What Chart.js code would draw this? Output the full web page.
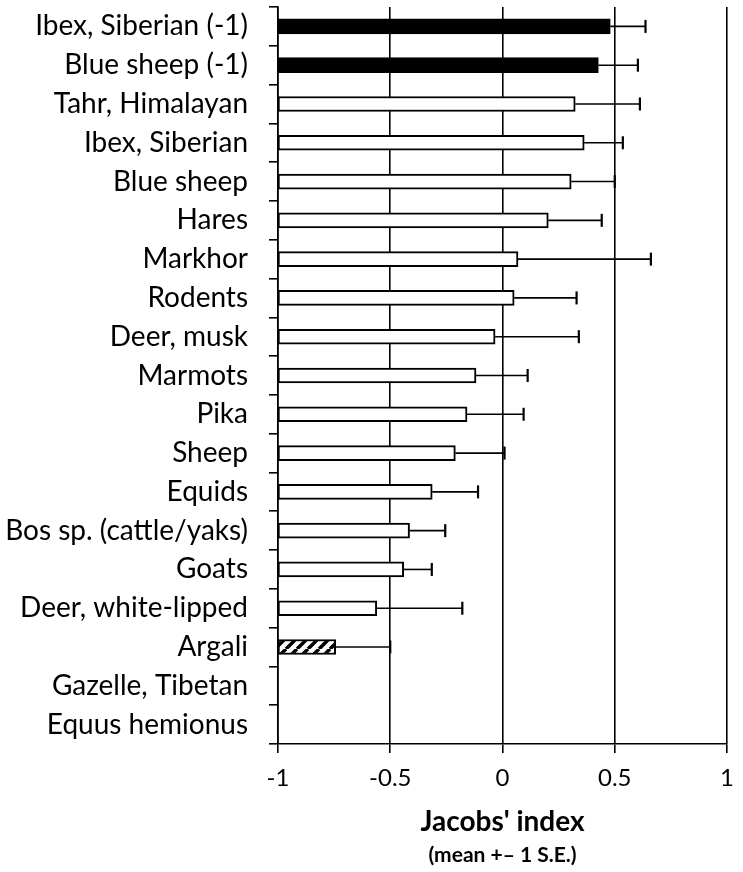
<!DOCTYPE html>
<html>
<head>
<meta charset="utf-8">
<script src="https://cdn.jsdelivr.net/npm/chart.js@4/dist/chart.umd.min.js"></script>
<style>
  html, body { margin: 0; padding: 0; background: #fff; }
  #wrap { width: 743px; height: 872px; position: relative; }
</style>
</head>
<body>
<div id="wrap"><canvas id="c" width="743" height="872"></canvas></div>
<script>
// ---- data ----
const categories = [
  'Ibex, Siberian (-1)', 'Blue sheep (-1)', 'Tahr, Himalayan', 'Ibex, Siberian',
  'Blue sheep', 'Hares', 'Markhor', 'Rodents', 'Deer, musk', 'Marmots', 'Pika',
  'Sheep', 'Equids', 'Bos sp. (cattle/yaks)', 'Goats', 'Deer, white-lipped',
  'Argali', 'Gazelle, Tibetan', 'Equus hemionus'
];
const meanIndex = [0.48, 0.427, 0.324, 0.364, 0.306, 0.204, 0.069, 0.052, -0.033,
  -0.118, -0.158, -0.21, -0.313, -0.414, -0.44, -0.56, -0.743, null, null];
const stdError = [0.157, 0.176, 0.288, 0.172, 0.194, 0.238, 0.592, 0.278, 0.373,
  0.23, 0.252, 0.219, 0.204, 0.159, 0.125, 0.381, 0.243, null, null];
const groups = ['inverted', 'inverted', 'normal', 'normal', 'normal', 'normal', 'normal',
  'normal', 'normal', 'normal', 'normal', 'normal', 'normal', 'normal', 'normal',
  'normal', 'hatched', 'normal', 'normal'];
const xTicks = [-1, -0.5, 0, 0.5, 1];
const axisTitle = "Jacobs' index";
const axisSubtitle = '(mean +\u2013 1 S.E.)';

// ---- styling ----
function hatchPattern() {
  const s = 11;
  const p = document.createElement('canvas');
  p.width = s; p.height = s;
  const g = p.getContext('2d');
  g.fillStyle = '#fff'; g.fillRect(0, 0, s, s);
  g.strokeStyle = '#000'; g.lineWidth = 3.5;
  g.beginPath();
  for (let k = -1; k <= 1; k++) {
    g.moveTo(k * s, s); g.lineTo(k * s + s, 0);
  }
  g.stroke();
  return document.getElementById('c').getContext('2d').createPattern(p, 'repeat');
}
const hatch = hatchPattern();
const fills = groups.map(g => g === 'inverted' ? '#000' : (g === 'hatched' ? hatch : '#fff'));

const FONT = 'Lato, Carlito, "Noto Sans", sans-serif';
const PLOT_LEFT = 278, PLOT_RIGHT_PAD = 16, PLOT_TOP = 7, X_AXIS_H = 128;

const errorBars = {
  id: 'errorBars',
  afterDatasetsDraw(chart) {
    const ctx = chart.ctx, xs = chart.scales.x, ys = chart.scales.y;
    ctx.save();
    ctx.strokeStyle = '#000';
    meanIndex.forEach((m, i) => {
      if (m === null || stdError[i] === null) return;
      const y = ys.getPixelForValue(i);
      const x0 = xs.getPixelForValue(m);
      const x1 = xs.getPixelForValue(m + stdError[i]);
      ctx.lineWidth = 1.6;
      ctx.beginPath();
      ctx.moveTo(x0, y); ctx.lineTo(x1, y);
      ctx.stroke();
      ctx.lineWidth = 2.2;
      ctx.beginPath();
      ctx.moveTo(x1, y - 6.5); ctx.lineTo(x1, y + 6.5);
      ctx.stroke();
    });
    ctx.restore();
  }
};

const axisTitles = {
  id: 'axisTitles',
  afterDraw(chart) {
    const ctx = chart.ctx, a = chart.chartArea;
    const cx = (a.left + a.right) / 2;
    ctx.save();
    ctx.fillStyle = '#000';
    ctx.textAlign = 'center';
    ctx.textBaseline = 'middle';
    ctx.font = 'bold 28px ' + FONT;
    ctx.fillText(axisTitle, cx, a.bottom + 78);
    ctx.font = 'bold 21px ' + FONT;
    ctx.fillText(axisSubtitle, cx, a.bottom + 111);
    ctx.restore();
  }
};

new Chart(document.getElementById('c'), {
  type: 'bar',
  data: {
    labels: categories,
    datasets: [{
      data: meanIndex.map(v => v === null ? null : [-1, v]),
      backgroundColor: fills,
      borderColor: '#000',
      borderWidth: 2,
      borderSkipped: false,
      barThickness: 15
    }]
  },
  options: {
    indexAxis: 'y',
    responsive: false,
    animation: false,
    devicePixelRatio: 1,
    layout: { padding: { left: 0, right: PLOT_RIGHT_PAD, top: PLOT_TOP, bottom: 0 } },
    plugins: { legend: { display: false }, tooltip: { enabled: false }, title: { display: false } },
    scales: {
      x: {
        type: 'linear',
        min: -1, max: 1,
        afterBuildTicks(s) { s.ticks = xTicks.map(v => ({ value: v })); },
        afterFit(s) { s.height = X_AXIS_H; s.paddingLeft = 0; s.paddingRight = 0; },
        grid: { color: '#000', lineWidth: 1.6, tickLength: 9, drawTicks: true },
        border: { color: '#000', width: 1.6 },
        ticks: {
          color: '#000', padding: 11,
          font: { family: FONT, size: 24 },
          callback: v => String(v)
        }
      },
      y: {
        afterFit(s) { s.width = PLOT_LEFT; s.paddingTop = 0; s.paddingBottom = 0; },
        grid: { drawOnChartArea: false, color: '#000', lineWidth: 1.6, tickLength: 9, offset: true },
        border: { color: '#000', width: 1.6 },
        ticks: {
          color: '#000', padding: 21,
          font: { family: FONT, size: 28 }
        }
      }
    }
  },
  plugins: [errorBars, axisTitles]
});
</script>
</body>
</html>
